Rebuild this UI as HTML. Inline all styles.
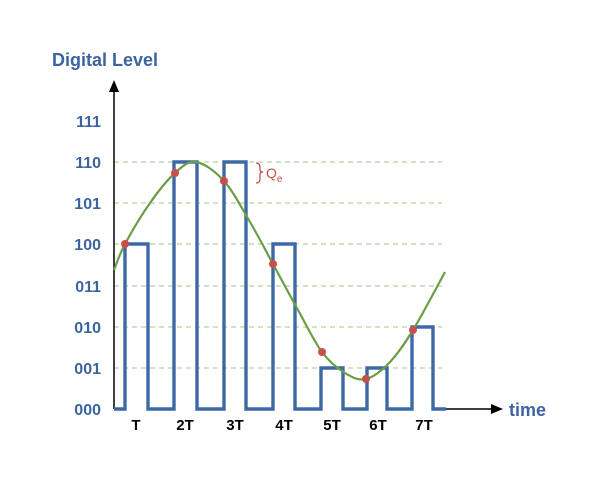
<!DOCTYPE html>
<html><head><style>body{margin:0;background:#fff}</style></head><body>
<svg width="600" height="483" viewBox="0 0 600 483" xmlns="http://www.w3.org/2000/svg" font-family="Liberation Sans, sans-serif">
<rect width="600" height="483" fill="#fff"/>
<g stroke="#b5d3a0" stroke-width="1.2" stroke-dasharray="5,4">
<line x1="114" y1="162" x2="442" y2="162"/>
<line x1="114" y1="203" x2="442" y2="203"/>
<line x1="114" y1="244" x2="442" y2="244"/>
<line x1="114" y1="286" x2="442" y2="286"/>
<line x1="114" y1="327" x2="442" y2="327"/>
<line x1="114" y1="368" x2="442" y2="368"/>
</g>
<line x1="114" y1="409" x2="114" y2="88" stroke="#000" stroke-width="1.5"/>
<polygon points="114,80 109,92 119,92" fill="#000"/>
<line x1="440" y1="409" x2="494" y2="409" stroke="#000" stroke-width="1.5"/>
<polygon points="503,409 491,404 491,414" fill="#000"/>
<polyline fill="none" stroke="#3d6aa6" stroke-width="3.4" stroke-linejoin="miter" points="114,409 125,409 125,244 148,244 148,409 174,409 174,162 197,162 197,409 224,409 224,162 246,162 246,409 273,409 273,244 295,244 295,409 321,409 321,368 343,368 343,409 367,409 367,368 387,368 387,409 412,409 412,327 433,327 433,409 446,409"/>
<path fill="none" stroke="#6a9e45" stroke-width="2.2" d="M114,270 C115.8,265.7 119,255.2 125,244 C131,232.8 141.7,214.8 150,203 C158.3,191.2 167.3,179.8 175,173 C182.7,166.2 187.8,160.7 196,162 C204.2,163.3 215,171 224,181 C233,191 241.8,208.2 250,222 C258.2,235.8 265,249.3 273,264 C281,278.7 289.8,295.3 298,310 C306.2,324.7 314.2,341.5 322,352 C329.8,362.5 337.7,368.5 345,373 C352.3,377.5 358.5,380.8 366,379 C373.5,377.2 382.2,370.2 390,362 C397.8,353.8 403.8,345 413,330 C422.2,315 439.7,281.7 445,272"/>
<g fill="#c9504a">
<circle cx="125" cy="244" r="4"/><circle cx="175" cy="173" r="4"/><circle cx="224" cy="181" r="4"/><circle cx="273" cy="264" r="4"/><circle cx="322" cy="352" r="4"/><circle cx="366" cy="379" r="4"/><circle cx="413" cy="330" r="4"/>
</g>
<path d="M256,163 Q260,163 260,168 L260,170 Q260,172 263,172 Q260,172 260,175 L260,179 Q260,183 256,183" fill="none" stroke="#c9504a" stroke-width="1.3"/>
<text x="266" y="178" fill="#c9504a" font-size="14">Q<tspan font-size="10" dy="4">e</tspan></text>
<g fill="#3b64a0" font-weight="bold" font-size="16" text-anchor="end">
<text x="101" y="127">111</text><text x="101" y="168">110</text><text x="101" y="209">101</text><text x="101" y="250">100</text><text x="101" y="292">011</text><text x="101" y="333">010</text><text x="101" y="374">001</text><text x="101" y="415">000</text>
</g>
<text x="52" y="66" fill="#3b64a0" font-weight="bold" font-size="18">Digital Level</text>
<text x="509" y="416" fill="#3b64a0" font-weight="bold" font-size="18">time</text>
<g fill="#000" font-weight="bold" font-size="15" text-anchor="middle">
<text x="136" y="430">T</text><text x="185" y="430">2T</text><text x="235" y="430">3T</text><text x="284" y="430">4T</text><text x="332" y="430">5T</text><text x="378" y="430">6T</text><text x="424" y="430">7T</text>
</g>
</svg>
</body></html>
